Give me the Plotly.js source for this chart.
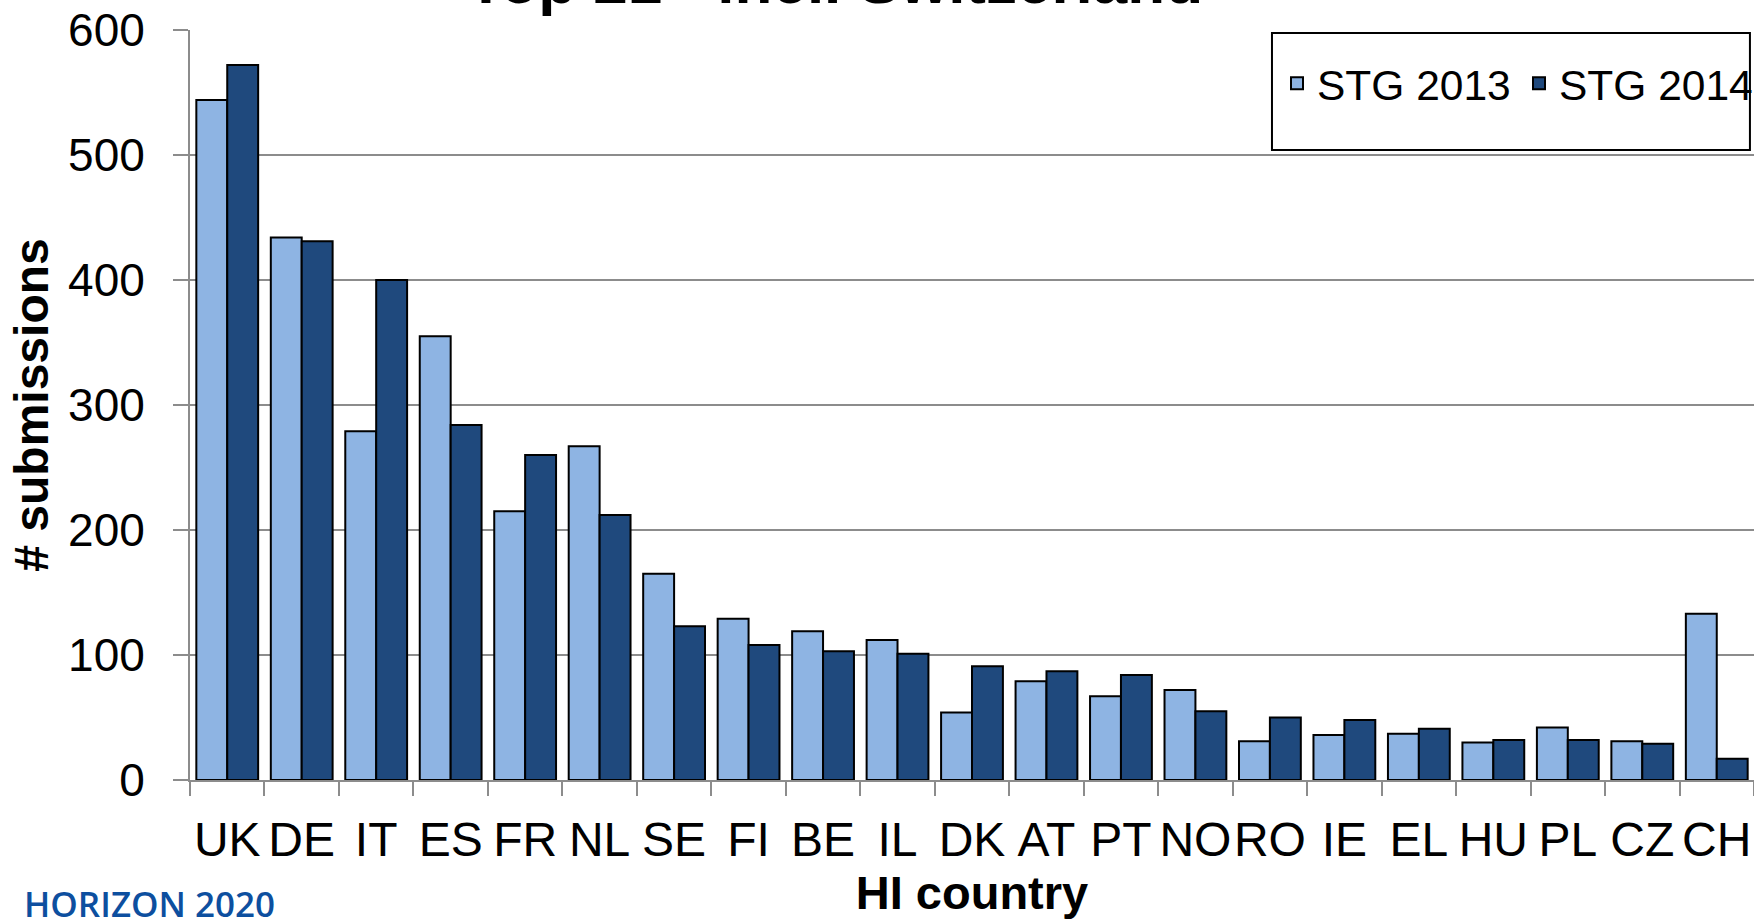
<!DOCTYPE html>
<html>
<head>
<meta charset="utf-8">
<script src="https://cdn.plot.ly/plotly-3.0.1.min.js"></script>
<style>
  html, body { margin: 0; padding: 0; background: #ffffff; }
  #chart { width: 1754px; height: 924px; }
</style>
</head>
<body>
<div id="chart"></div>
<script>
// ---- data ----
const countries = ['UK','DE','IT','ES','FR','NL','SE','FI','BE','IL','DK','AT','PT','NO','RO','IE','EL','HU','PL','CZ','CH'];
const stg2013 = [544, 434, 279, 355, 215, 267, 165, 129, 119, 112, 54, 79, 67, 72, 31, 36, 37, 30, 42, 31, 133];
const stg2014 = [572, 431, 400, 284, 260, 212, 123, 108, 103, 101, 91, 87, 84, 55, 50, 48, 41, 32, 32, 29, 17];
const seriesNames = ['STG 2013', 'STG 2014'];
const yTicks = [0, 100, 200, 300, 400, 500, 600];

const FONT = 'Liberation Sans, Arial, Helvetica, sans-serif';
const GRID = '#8c8c8c';

const traces = [
  {
    type: 'bar', name: seriesNames[0], x: countries, y: stg2013,
    marker: { color: '#8EB4E3', line: { color: '#000000', width: 2 } },
    hoverinfo: 'skip'
  },
  {
    type: 'bar', name: seriesNames[1], x: countries, y: stg2014,
    marker: { color: '#1F497D', line: { color: '#000000', width: 2 } },
    hoverinfo: 'skip'
  }
];

const layout = {
  width: 1754, height: 924,
  margin: { l: 190, r: 0, t: 30, b: 144, pad: 0, autoexpand: false },
  paper_bgcolor: '#ffffff', plot_bgcolor: '#ffffff',
  font: { family: FONT, color: '#000000' },
  barmode: 'group', bargap: 0.17, bargroupgap: 0,
  showlegend: true,
  legend: {
    orientation: 'h', xref: 'container', yref: 'container',
    x: 1277 / 1754, xanchor: 'left', y: 1 - 49 / 924, yanchor: 'top',
    font: { family: FONT, size: 42.5, color: '#000000' },
    bgcolor: 'rgba(0,0,0,0)', borderwidth: 0,
    entrywidth: 197, entrywidthmode: 'pixels',
    traceorder: 'normal'
  },
  xaxis: {
    type: 'category', automargin: false, tickangle: 0,
    tickson: 'boundaries', ticks: 'outside', ticklen: 14, tickwidth: 2, tickcolor: GRID,
    ticklabelstandoff: 16,
    showline: true, linecolor: GRID, linewidth: 2,
    showgrid: false, zeroline: false,
    tickfont: { family: FONT, size: 48, color: '#000000' },
    title: { text: 'HI country', font: { family: FONT, size: 47, weight: 'bold', color: '#000000' }, standoff: 6 }
  },
  yaxis: {
    range: [0, 600], tickvals: yTicks, automargin: false,
    ticks: 'outside', ticklen: 15, tickwidth: 2, tickcolor: GRID,
    ticklabelstandoff: 19,
    showline: true, linecolor: GRID, linewidth: 2,
    showgrid: true, gridcolor: GRID, gridwidth: 2, zeroline: false,
    tickfont: { family: FONT, size: 46, color: '#000000' },
    title: { text: '# submissions', font: { family: FONT, size: 48, weight: 'bold', color: '#000000' }, standoff: 4 }
  },
  shapes: [
    { type: 'rect', xref: 'paper', yref: 'paper', x0: 0.6918, x1: 0.9974, y0: 0.84, y1: 0.996,
      line: { color: '#000000', width: 2 }, fillcolor: 'rgba(0,0,0,0)', layer: 'above' }
  ],
  annotations: [
    { text: 'Top 21 - incl. Switzerland', xref: 'paper', yref: 'paper', x: 0.4124, y: 1,
      xanchor: 'center', yanchor: 'middle', yshift: 49, showarrow: false,
      font: { family: FONT, size: 62, weight: 'bold', color: '#000000' } },
    { text: 'HORIZON 2020', xref: 'paper', yref: 'paper', x: -0.1074, y: -0.165,
      xanchor: 'left', yanchor: 'middle', showarrow: false,
      font: { family: 'Open Sans, Noto Sans, sans-serif', size: 35, weight: 600, color: '#0d4f9f' } }
  ]
};

Plotly.newPlot('chart', traces, layout, { displayModeBar: false, staticPlot: true });
</script>
</body>
</html>
